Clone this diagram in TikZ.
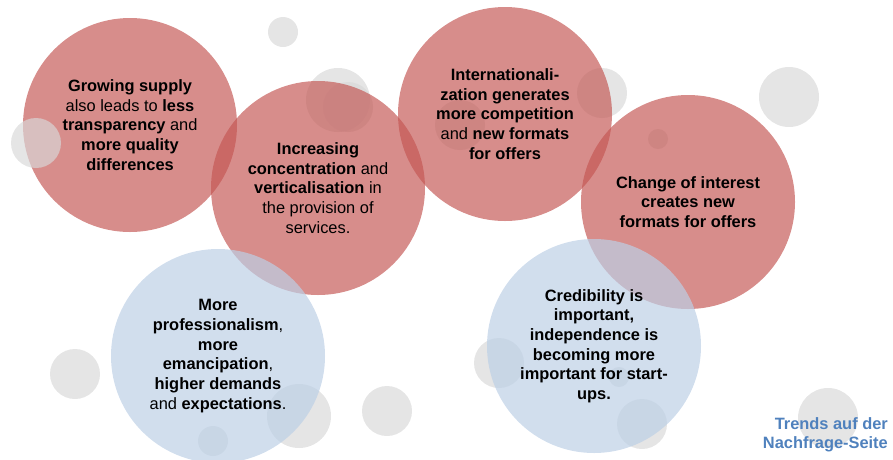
\documentclass[tikz,border=0pt]{standalone}
\usepackage{fontspec}
\setmainfont{Liberation Sans}
\usepackage{xcolor}
\definecolor{trendred}{RGB}{196,87,84}
\definecolor{trendblue}{RGB}{189,208,230}
\definecolor{bubblegray}{RGB}{216,216,216}
\definecolor{titleblue}{RGB}{79,129,189}

\begin{document}
\begin{tikzpicture}[
		x=1pt, y=-1pt,
		font=\fontsize{16.4}{19.7}\selectfont,
		trend/.style={
			circle,
			minimum size=214pt,
			inner sep=0pt,
			align=center,
			text opacity=1
		},
		redtrend/.style={trend, fill=trendred, fill opacity=0.68},
		bluetrend/.style={trend, fill=trendblue, fill opacity=0.7},
		bubble/.style={fill=bubblegray, fill opacity=0.67}
		]
		
		\useasboundingbox (0,0) rectangle (893,459);
		
		% --- Grey bubbles (behind) ---
		\foreach \bx/\by/\br in {283/32/15, 338/100/32, 348/107/25, 602/93/25,
			789/97/30, 658/139/10, 460/125/25, 75/374/25, 299/416/32, 387/411/25,
			213/441/15, 499/363/25, 642/424/25, 828/418/30, 619/377/10}
		\fill[bubble] (\bx,\by) circle[radius=\br pt];
		
		% --- Supply side trends (red) ---
		\node[redtrend] (supply) at (130,125) {
			\textbf{Growing supply}\\
			also leads to \textbf{less}\\
			\textbf{transparency} and\\
			\textbf{more quality}\\
			\textbf{differences}
		};
		
		\node[redtrend] (concentration) at (318,188) {
			\textbf{Increasing}\\
			\textbf{concentration} and\\
			\textbf{verticalisation} in\\
			the provision of\\
			services.
		};
		
		\node[redtrend] (internat) at (505,114) {
			\textbf{Internationali-}\\
			\textbf{zation generates}\\
			\textbf{more competition}\\
			and \textbf{new formats}\\
			\textbf{for offers}
		};
		
		\node[redtrend] (interest) at (688,202) {
			\textbf{Change of interest}\\
			\textbf{creates new}\\
			\textbf{formats for offers}
		};
		
		% --- Grey bubble (front) ---
		\fill[bubble] (36,143) circle[radius=25pt];
		
		% --- Demand side trends (blue) ---
		\node[bluetrend] (professional) at (218,356) {
			\textbf{More}\\
			\textbf{professionalism},\\
			\textbf{more}\\
			\textbf{emancipation},\\
			\textbf{higher demands}\\
			and \textbf{expectations}.
		};
		
		\node[bluetrend] (credibility) at (594,346) {
			\textbf{Credibility is}\\
			\textbf{important,}\\
			\textbf{independence is}\\
			\textbf{becoming more}\\
			\textbf{important for start-}\\
			\textbf{ups.}
		};
		
		% --- Title ---
		\node[anchor=north east, inner sep=0pt, align=right, text=titleblue,
			font=\bfseries\fontsize{16.4}{19}\selectfont] (trends) at (888,417) {
			Trends auf der\\
			Nachfrage-Seite
		};
		
	\end{tikzpicture}
\end{document}
